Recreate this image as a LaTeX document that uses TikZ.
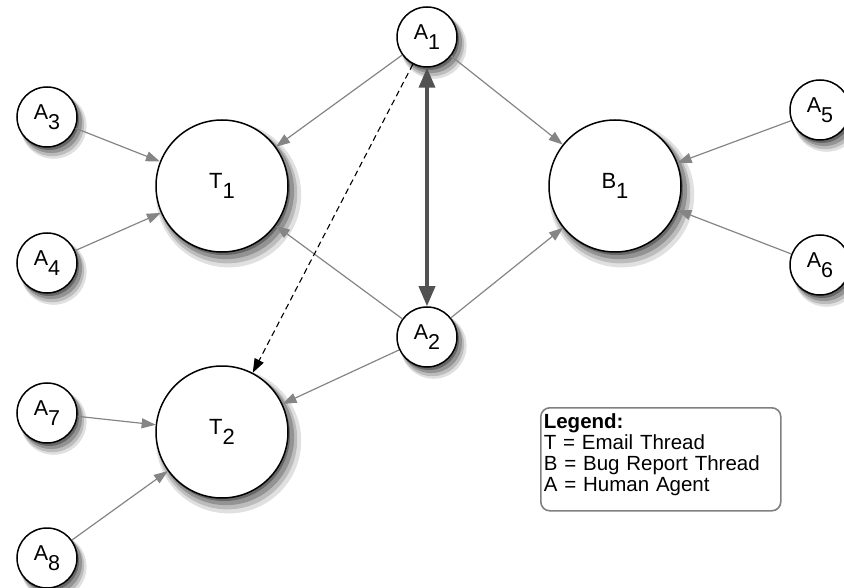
\documentclass[tikz,border=0pt]{standalone}
\usepackage{fontspec}
\setmainfont{Liberation Sans}
\usetikzlibrary{shadows,arrows.meta}
\newcommand\mylab[2]{#1\raisebox{-0.45em}{#2}}
\begin{document}
\begin{tikzpicture}[x=1pt,y=-1pt,
  softshadow/.style={
    general shadow={shadow xshift=6pt,shadow yshift=-8pt,shadow scale=1.10,opacity=0.12,fill=black},
    general shadow={shadow xshift=5pt,shadow yshift=-7pt,shadow scale=1.06,opacity=0.16,fill=black},
    general shadow={shadow xshift=4pt,shadow yshift=-5pt,shadow scale=1.03,opacity=0.22,fill=black},
    general shadow={shadow xshift=2pt,shadow yshift=-3pt,shadow scale=1.00,opacity=0.30,fill=black}},
  agent/.style={circle,draw=black,line width=1.5pt,fill=white,minimum size=60pt,inner sep=0pt,
    font=\fontsize{21.5}{23}\selectfont,softshadow},
  thread/.style={agent,minimum size=132pt,font=\fontsize{22}{24}\selectfont},
  link/.style={draw=black!48,line width=1.2pt,-{Triangle[length=14pt,width=10pt]}},
  strong/.style={draw=black!68,line width=3.5pt,{Triangle[length=20pt,width=16pt]}-{Triangle[length=20pt,width=16pt]}},
  hint/.style={draw=black,line width=1.1pt,dash pattern=on 6pt off 4pt,-{Triangle[length=14pt,width=10pt]}},
  legendbox/.style={draw=black!50,line width=1.6pt,rounded corners=9pt,fill=white,
    text width=234pt,align=left,inner xsep=3pt,inner ysep=2pt,
    font=\fontsize{20.5}{21}\selectfont}
]
\useasboundingbox (0,0) rectangle (844,588);
\node[agent] (A1) at (427,37) {\mylab{A}{1}};
\node[agent] (A2) at (427,337) {\mylab{A}{2}};
\node[agent] (A3) at (47,117) {\mylab{A}{3}};
\node[agent] (A4) at (47,263) {\mylab{A}{4}};
\node[agent] (A5) at (820,110) {\mylab{A}{5}};
\node[agent] (A6) at (820,265) {\mylab{A}{6}};
\node[agent] (A7) at (47,413) {\mylab{A}{7}};
\node[agent] (A8) at (47,558) {\mylab{A}{8}};
\node[thread] (T1) at (222,186) {\mylab{T}{1}};
\node[thread] (B1) at (615,186) {\mylab{B}{1}};
\node[thread] (T2) at (222,432) {\mylab{T}{2}};

\draw[link] (A1) -- (T1);
\draw[link] (A1) -- (B1);
\draw[link] (A3) -- (T1);
\draw[link] (A4) -- (T1);
\draw[link] (A2) -- (T1);
\draw[link] (A2) -- (B1);
\draw[link] (A2) -- (T2);
\draw[link] (A5) -- (B1);
\draw[link] (A6) -- (B1);
\draw[link] (A7) -- (T2);
\draw[link] (A8) -- (T2);
\draw[strong] (A1) -- (A2);
\draw[hint] (A1) -- (T2);

\node[legendbox,anchor=north west] (legend) at (540,407)
  {\rule{0pt}{19pt}\textbf{Legend:}\\T = Email Thread\\B = Bug Report Thread\\A = Human Agent\\[-4pt]\mbox{}};
\end{tikzpicture}
\end{document}
